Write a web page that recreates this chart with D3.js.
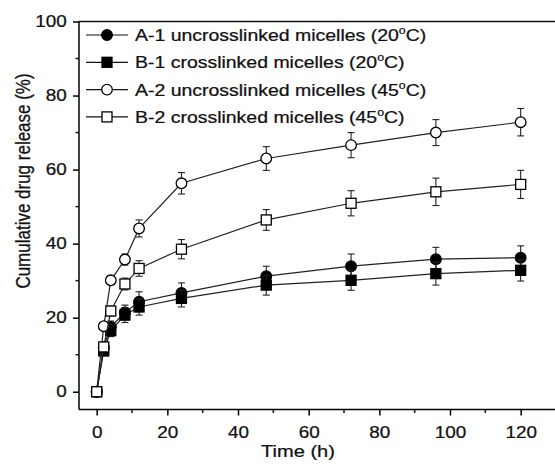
<!DOCTYPE html>
<html><head><meta charset="utf-8">
<script src="https://cdn.jsdelivr.net/npm/d3@7"></script>
<style>body{margin:0;background:#fff}svg{display:block}text{font-family:"Liberation Sans",Arial,sans-serif;fill:#111;stroke:#111;stroke-width:0.25px}</style>
</head><body><svg id="c" width="555" height="468"></svg>
<script>
const times = [0, 2, 4, 8, 12, 24, 48, 72, 96, 120];
const a1 = [0, 12, 17.5, 21.4, 24.3, 26.7, 31.2, 33.9, 35.8, 36.2];
const a1Err = [0, 1.2, 1.6, 2, 2.7, 2.7, 2.7, 3.3, 3.2, 3.2];
const b1 = [0, 11, 16.5, 20.7, 22.9, 25.2, 28.8, 30.1, 31.9, 32.8];
const b1Err = [0, 1.2, 1.6, 2, 2.2, 2.3, 2.7, 2.7, 3.1, 2.9];
const a2 = [0, 17.7, 30.1, 35.7, 44.1, 56.3, 63.0, 66.6, 70.0, 72.8];
const a2Err = [0, 1.0, 1.2, 1.5, 2.3, 2.9, 3.2, 3.4, 3.5, 3.7];
const b2 = [0, 12.1, 21.8, 29.1, 33.3, 38.5, 46.4, 50.9, 54.0, 56.0];
const b2Err = [0, 1.2, 1.3, 1.6, 2.1, 2.6, 2.8, 3.4, 3.7, 3.8];
const seriesNames = ["A-1 uncrosslinked micelles (20", "B-1 crosslinked micelles (20", "A-2 uncrosslinked micelles (45", "B-2 crosslinked micelles (45"];
const markerTypes = ["circle-filled", "square-filled", "circle-open", "square-open"];
const xTicks = [0, 20, 40, 60, 80, 100, 120];
const yTicks = [0, 20, 40, 60, 80, 100];
const xTitle = "Time (h)";
const yTitle = "Cumulative drug release (%)";

const series = [a1, b1, a2, b2].map((v, i) => ({name: seriesNames[i], type: markerTypes[i], values: v, errs: [a1Err, b1Err, a2Err, b2Err][i]}));

const svg = d3.select("#c");
const L = 79, R = 556, T = 21.5, B = 409.5;
const SX = 1.18;
const x = d3.scaleLinear().domain([-5, 130]).range([L, R]);
const y = d3.scaleLinear().domain([-4.8, 100]).range([B, T]);

svg.append("line").attr("x1", L).attr("x2", R).attr("y1", T).attr("y2", T).attr("stroke", "#111").attr("stroke-width", 1.5);

const xMinor = d3.range(10, 130, 20);
const yMinor = d3.range(10, 100, 20);
const gx = svg.append("g").attr("transform", `translate(0,${B})`)
  .call(d3.axisBottom(x).tickValues(xTicks).tickSize(6).tickPadding(11).tickFormat(d3.format("d")));
gx.select(".domain").attr("stroke-width", 1.5).attr("d", `M${L},0H${R}`);
gx.selectAll(".tick line").attr("stroke-width", 1.5);
gx.selectAll("text").style("font-size", "16px").attr("fill", "#111").attr("transform", `scale(${SX},1)`);
gx.selectAll(".minor").data(xMinor).enter().append("line").attr("x1", d => x(d)).attr("x2", d => x(d)).attr("y1", 0).attr("y2", 3.5).attr("stroke", "#111").attr("stroke-width", 1.5);

const gy = svg.append("g").attr("transform", `translate(${L},0)`)
  .call(d3.axisLeft(y).tickValues(yTicks).tickSize(6).tickPadding(5).tickFormat(d3.format("d")));
gy.select(".domain").attr("stroke-width", 1.5).attr("d", `M0,${B}V${T}`);
gy.selectAll(".tick line").attr("stroke-width", 1.5);
gy.selectAll("text").style("font-size", "16px").attr("fill", "#111").attr("x", 0).attr("transform", `translate(-12.3,0) scale(${SX},1)`);
gy.selectAll(".minor").data(yMinor).enter().append("line").attr("y1", d => y(d)).attr("y2", d => y(d)).attr("x1", 0).attr("x2", -3.5).attr("stroke", "#111").attr("stroke-width", 1.5);

svg.append("g").attr("transform", `translate(298,457) scale(${SX},1)`).append("text").attr("text-anchor", "middle").style("font-size", "17px").text(xTitle);
svg.append("g").attr("transform", `translate(30,181) scale(${SX},1) rotate(-90)`).append("text").attr("text-anchor", "middle").style("font-size", "17px").text(yTitle);

function drawMarker(g, type, cx, cy) {
  const filled = type.endsWith("filled");
  if (type.startsWith("circle")) {
    g.append("circle").attr("cx", cx).attr("cy", cy).attr("r", 5.3)
      .attr("fill", filled ? "#000" : "#fff").attr("stroke", "#000").attr("stroke-width", 1.3);
  } else {
    g.append("rect").attr("x", cx - 5).attr("y", cy - 5).attr("width", 10).attr("height", 10)
      .attr("fill", filled ? "#000" : "#fff").attr("stroke", "#000").attr("stroke-width", 1.3);
  }
}

const line = d3.line().x(d => x(d[0])).y(d => y(d[1]));
series.forEach(s => {
  const g = svg.append("g");
  const pts = times.map((t, i) => [t, s.values[i], s.errs[i]]);
  g.append("path").attr("d", line(pts)).attr("fill", "none").attr("stroke", "#222").attr("stroke-width", 1.2);
  pts.forEach(p => {
    if (p[2] > 0) {
      const cx = x(p[0]);
      g.append("line").attr("x1", cx).attr("x2", cx).attr("y1", y(p[1] + p[2])).attr("y2", y(p[1] - p[2])).attr("stroke", "#222").attr("stroke-width", 1.1);
      [p[1] + p[2], p[1] - p[2]].forEach(v => g.append("line").attr("x1", cx - 3.5).attr("x2", cx + 3.5).attr("y1", y(v)).attr("y2", y(v)).attr("stroke", "#222").attr("stroke-width", 1.1));
    }
  });
  pts.forEach(p => drawMarker(g, s.type, x(p[0]), y(p[1])));
});

const leg = svg.append("g");
series.forEach((s, i) => {
  const ly = 35 + i * 27.3;
  leg.append("line").attr("x1", 86).attr("x2", 128).attr("y1", ly).attr("y2", ly).attr("stroke", "#111").attr("stroke-width", 1.2);
  drawMarker(leg, s.type, 107, ly);
  const t = leg.append("g").attr("transform", `translate(135,${ly + 6}) scale(${SX},1)`).append("text").style("font-size", "16.5px");
  t.append("tspan").text(s.name);
  t.append("tspan").attr("dy", -7).style("font-size", "10.5px").text("o");
  t.append("tspan").attr("dy", 7).text("C)");
});
</script></body></html>
